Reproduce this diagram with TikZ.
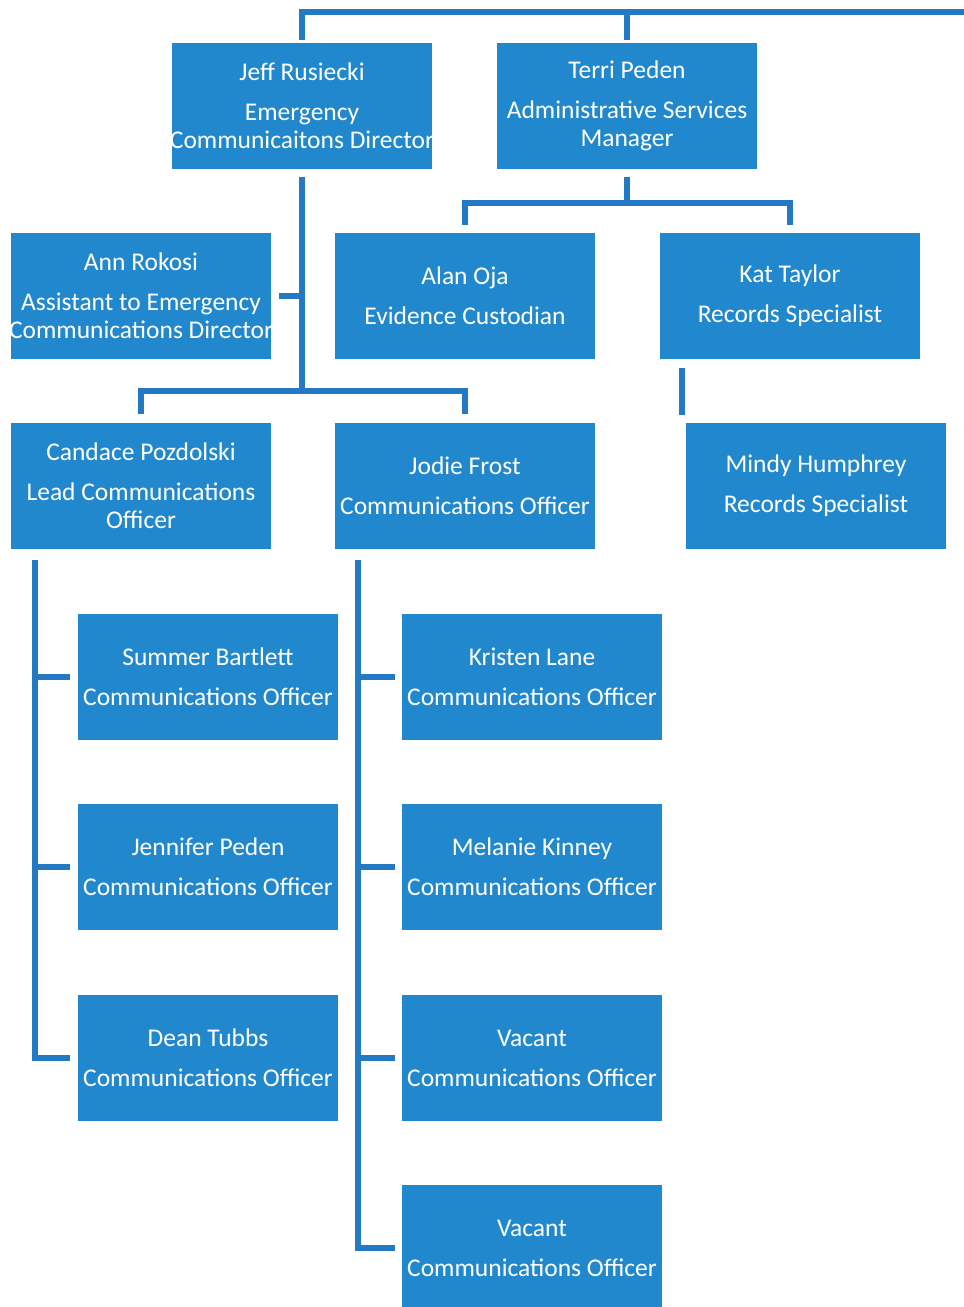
\documentclass[tikz,border=0pt]{standalone}
\usepackage{fontspec}
\setmainfont{Carlito}
\usepackage{tikz}
\definecolor{orgblock}{RGB}{34, 136, 206}
\definecolor{orgline}{RGB}{36, 122, 194}
\tikzset{
	staff/.style={rectangle, fill=orgblock, text=white, inner ysep=0pt, inner xsep=-3pt,
		minimum width=260pt, minimum height=126pt, align=center,
		font=\fontsize{25.5}{28}\selectfont},
	link/.style={draw=orgline, line width=6pt},
}

\begin{document}
\begin{tikzpicture}[x=1pt, y=-1pt]
		\clip (0,0) rectangle (964,1307);

		\node[staff] (jeff) at (302,106) {Jeff Rusiecki\\[12pt]Emergency\\Communicaitons Director};
		\node[staff] (terri) at (627,106) {Terri Peden\\[12pt]Administrative Services\\Manager};

		\node[staff] (ann) at (141,296) {Ann Rokosi\\[12pt]Assistant to Emergency\\Communications Director};
		\node[staff] (alan) at (465,296) {Alan Oja\\[12pt]Evidence Custodian};
		\node[staff] (kat) at (790,296) {Kat Taylor\\[12pt]Records Specialist};

		\node[staff] (candace) at (141,486) {Candace Pozdolski\\[12pt]Lead Communications\\Officer};
		\node[staff] (jodie) at (465,486) {Jodie Frost\\[12pt]Communications Officer};
		\node[staff] (mindy) at (816,486) {Mindy Humphrey\\[12pt]Records Specialist};

		\node[staff] (summer) at (208,677) {Summer Bartlett\\[12pt]Communications Officer};
		\node[staff] (jennifer) at (208,867) {Jennifer Peden\\[12pt]Communications Officer};
		\node[staff] (dean) at (208,1058) {Dean Tubbs\\[12pt]Communications Officer};

		\node[staff] (kristen) at (532,677) {Kristen Lane\\[12pt]Communications Officer};
		\node[staff] (melanie) at (532,867) {Melanie Kinney\\[12pt]Communications Officer};
		\node[staff] (vacanta) at (532,1058) {Vacant\\[12pt]Communications Officer};
		\node[staff] (vacantb) at (532,1248) {Vacant\\[12pt]Communications Officer};

		\coordinate (topright) at (964,12);
		\draw[link, shorten <=3pt] (jeff.north) |- (topright);
		\draw[link, shorten <=3pt] (terri.north) -- (terri.north |- topright);

		\coordinate (jbar) at (302,391);
		\draw[link, shorten <=8pt] (jeff.south) -- (jbar);
		\draw[link, shorten <=9pt, shorten >=9pt] (candace.north) |- (jbar) -| (jodie.north);
		\draw[link, shorten <=8pt] (ann.east) -- (ann.east -| jbar);

		\coordinate (tbar) at (627,203);
		\draw[link, shorten <=8pt] (terri.south) -- (tbar);
		\draw[link, shorten <=8pt, shorten >=8pt] (alan.north) |- (tbar) -| (kat.north);
		\draw[link, shorten <=9pt, shorten >=8pt] ([xshift=22pt]kat.south west) -- ([xshift=22pt]kat.south west |- mindy.north);

		\coordinate (cspine) at ([xshift=24pt, yshift=-11pt]candace.south west);
		\draw[link, shorten >=8pt] (cspine) |- (dean.west);
		\foreach \n in {summer, jennifer}
			\draw[link, shorten <=8pt] (\n.west) -- (\n.west -| cspine);

		\coordinate (jspine) at ([xshift=23pt, yshift=-11pt]jodie.south west);
		\draw[link, shorten >=7pt] (jspine) |- (vacantb.west);
		\foreach \n in {kristen, melanie, vacanta}
			\draw[link, shorten <=7pt] (\n.west) -- (\n.west -| jspine);
	\end{tikzpicture}
\end{document}
